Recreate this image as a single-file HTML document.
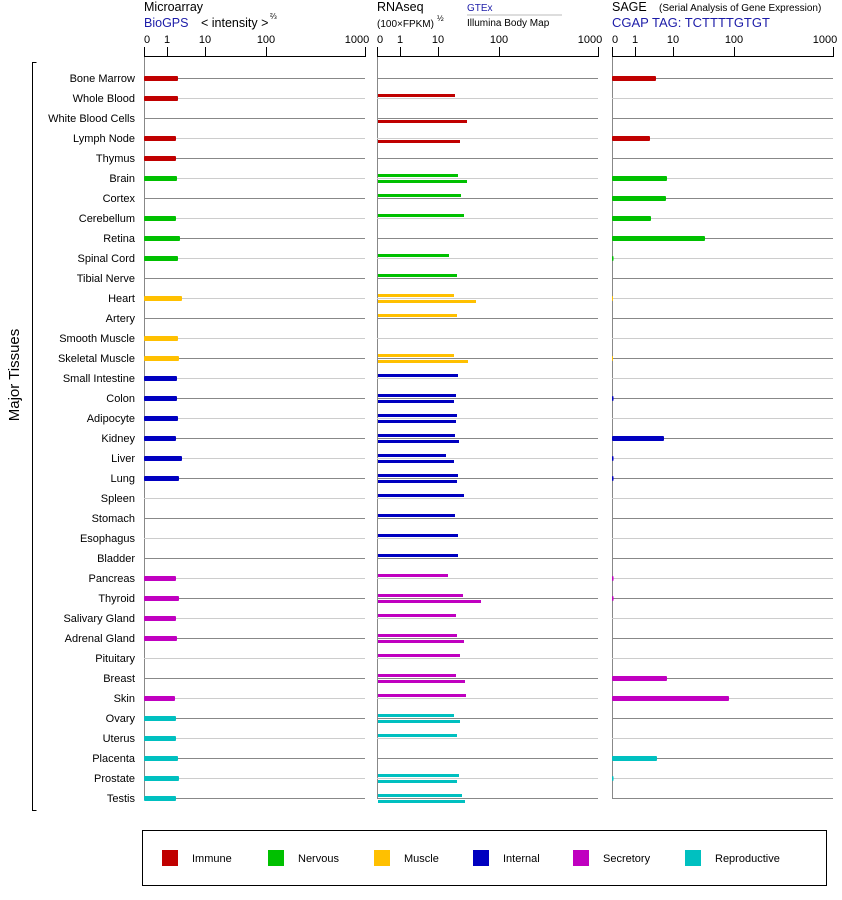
<!DOCTYPE html>
<html><head><meta charset="utf-8"><style>
body{margin:0;background:#fff}
svg{display:block;font-family:"Liberation Sans",Arial,sans-serif}
</style></head><body>
<svg width="842" height="900" viewBox="0 0 842 900" xmlns="http://www.w3.org/2000/svg">
<text x="144" y="11" font-size="12.5">Microarray</text>
<text x="144" y="27" font-size="12.5" fill="#1c1ca8">BioGPS</text>
<text x="201" y="27" font-size="12.5">&lt; intensity &gt;</text>
<text x="270" y="19" font-size="8">⅔</text>
<text x="377" y="11" font-size="12.5">RNAseq</text>
<text x="377" y="27" font-size="10">(100×FPKM)</text>
<text x="437" y="21" font-size="8">½</text>
<text x="467" y="11" font-size="10" fill="#1c1ca8">GTEx</text>
<line x1="467" y1="15" x2="562" y2="15" stroke="#bbb" stroke-width="1"/>
<text x="467" y="26" font-size="10">Illumina Body Map</text>
<text x="612" y="11" font-size="12.5">SAGE</text>
<text x="659" y="11" font-size="10">(Serial Analysis of Gene Expression)</text>
<text x="612" y="27" font-size="13" fill="#1c1ca8">CGAP TAG: TCTTTTGTGT</text>
<g id="ax" font-size="11" text-anchor="middle" stroke="none">
</g>
<g id="grid"></g>
<g id="bars"></g>
<text transform="translate(19,375) rotate(-90)" font-size="15" text-anchor="middle">Major Tissues</text>
<path d="M36.5 62.5 H32.5 V810.5 H36.5" fill="none" stroke="#000" stroke-width="1"/>
<g id="labels" font-size="11" text-anchor="end"></g>
<rect x="142.5" y="830.5" width="684" height="55" fill="none" stroke="#000" stroke-width="1"/>
<g font-size="11">
<rect x="162" y="850" width="16" height="16" fill="#c00000"/><text x="192" y="862">Immune</text>
<rect x="268" y="850" width="16" height="16" fill="#00c000"/><text x="298" y="862">Nervous</text>
<rect x="374" y="850" width="16" height="16" fill="#ffc000"/><text x="404" y="862">Muscle</text>
<rect x="473" y="850" width="16" height="16" fill="#0000c0"/><text x="503" y="862">Internal</text>
<rect x="573" y="850" width="16" height="16" fill="#c000c0"/><text x="603" y="862">Secretory</text>
<rect x="685" y="850" width="16" height="16" fill="#00c0c0"/><text x="715" y="862">Reproductive</text>
</g>
</svg>
<script>
var NS="http://www.w3.org/2000/svg";
function el(p,t,a,txt){var e=document.createElementNS(NS,t);for(var k in a)e.setAttribute(k,a[k]);if(txt!=null)e.textContent=txt;document.getElementById(p).appendChild(e);return e;}
var C={I:"#c00000",N:"#00c000",M:"#ffc000",T:"#0000c0",S:"#c000c0",R:"#00c0c0"};
// name, cat, micro end, gtex end, bodymap end, sage end
var rows=[
["Bone Marrow","I",178,0,0,656],["Whole Blood","I",178,455,0,0],["White Blood Cells","I",0,0,467,0],
["Lymph Node","I",176,0,460,650],["Thymus","I",176,0,0,0],["Brain","N",177,458,467,667],
["Cortex","N",0,461,0,666],["Cerebellum","N",176,464,0,651],["Retina","N",180,0,0,705],
["Spinal Cord","N",178,449,0,613.5],["Tibial Nerve","N",0,457,0,0],["Heart","M",182,454,476,613],
["Artery","M",0,457,0,0],["Smooth Muscle","M",178,0,0,0],["Skeletal Muscle","M",179,454,468,613],
["Small Intestine","T",177,458,0,0],["Colon","T",177,456,454,613.5],["Adipocyte","T",178,457,456,0],
["Kidney","T",176,455,459,664],["Liver","T",182,446,454,613.5],["Lung","T",179,458,457,613.5],
["Spleen","T",0,464,0,0],["Stomach","T",0,455,0,0],["Esophagus","T",0,458,0,0],["Bladder","T",0,458,0,0],
["Pancreas","S",176,448,0,613.5],["Thyroid","S",179,463,481,613.5],["Salivary Gland","S",176,456,0,0],
["Adrenal Gland","S",177,457,464,0],["Pituitary","S",0,460,0,0],["Breast","S",0,456,465,667],
["Skin","S",175,466,0,729],["Ovary","R",176,454,460,0],["Uterus","R",176,457,0,0],
["Placenta","R",178,0,0,657],["Prostate","R",179,459,457,613.5],["Testis","R",176,462,465,0]];
var panels=[144,377,612];
var offs=[0,23,61,122,221];var tl=["0","1","10","100","1000"];
panels.forEach(function(x0){
  for(var i=0;i<5;i++){var x=x0+offs[i]+0.5;
    el("ax","line",{x1:x,y1:47,x2:x,y2:56,stroke:"#000","stroke-width":1});
    el("ax","text",{x:x0+offs[i]+(i==4?-8:0)+(i==0?3:0),y:43},tl[i]);}
  el("ax","line",{x1:x0,y1:56.5,x2:x0+222,y2:56.5,stroke:"#000","stroke-width":1});
  el("grid","line",{x1:x0+0.5,y1:57,x2:x0+0.5,y2:799,stroke:"#888","stroke-width":1});
});
rows.forEach(function(r,i){
  var y=78+i*20;
  var sc=i%2==0?"#888":"#ccc";
  panels.forEach(function(x0){el("grid","line",{x1:x0,y1:y+0.5,x2:x0+221,y2:y+0.5,stroke:sc,"stroke-width":1});});
  el("labels","text",{x:135,y:y+4},r[0]);
  var c=C[r[1]];
  if(r[2])el("bars","rect",{x:144,y:y-2,width:r[2]-144,height:5,fill:c,rx:1});
  if(r[3])el("bars","rect",{x:378,y:y-4,width:r[3]-378,height:3,fill:c});
  if(r[4])el("bars","rect",{x:378,y:y+2,width:r[4]-378,height:3,fill:c});
  if(r[5])el("bars","rect",{x:612,y:y-2,width:r[5]-612,height:5,fill:c,rx:1});
});
</script>
</body></html>
